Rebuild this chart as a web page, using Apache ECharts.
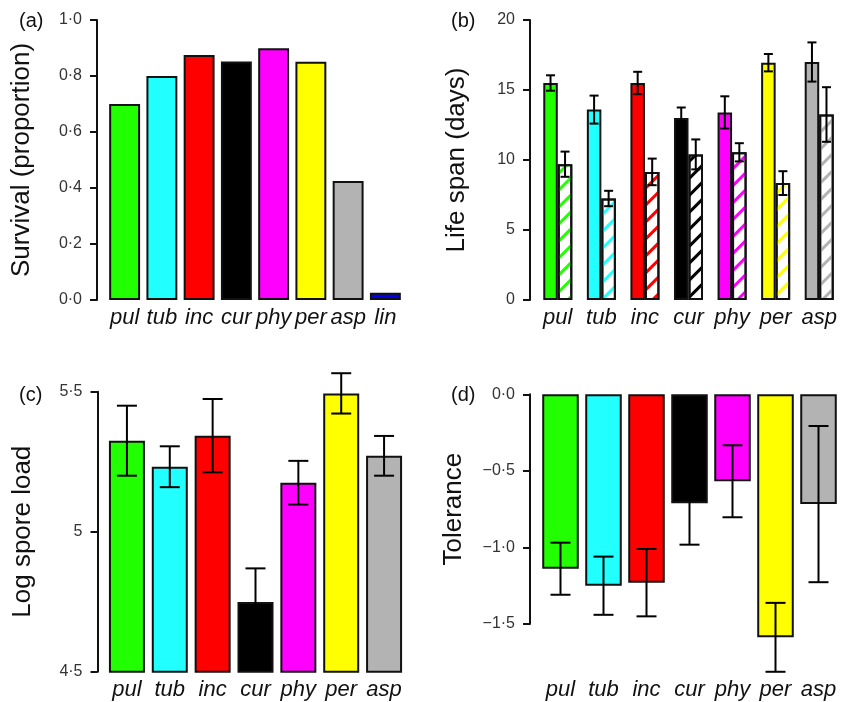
<!DOCTYPE html>
<html><head><meta charset="utf-8">
<script src="https://cdn.jsdelivr.net/npm/echarts@6/dist/echarts.min.js"></script>
<style>html,body{margin:0;padding:0;background:#fff}#c{width:841px;height:702px}</style>
</head><body><div id="c"></div>
<script>
// ---- data ----
const speciesA = ['pul','tub','inc','cur','phy','per','asp','lin'];
const survival = [0.70, 0.80, 0.875, 0.852, 0.899, 0.851, 0.425, 0.026];
const species = ['pul','tub','inc','cur','phy','per','asp'];
const lifeSpanExposed = [15.5, 13.6, 15.5, 13.0, 13.4, 16.95, 17.0];
const lifeSpanExposedErr = [0.55, 1.0, 0.8, 0.75, 1.15, 0.62, 1.4];
const lifeSpanControl = [9.7, 7.25, 9.15, 10.4, 10.55, 8.35, 13.25];
const lifeSpanControlErr = [0.9, 0.55, 0.95, 1.07, 0.65, 0.85, 1.95];
const sporeLoad = [5.325, 5.232, 5.343, 4.749, 5.175, 5.494, 5.271];
const sporeLoadErr = [0.125, 0.073, 0.131, 0.12, 0.078, 0.072, 0.071];
const tolerance = [-1.139, -1.25, -1.23, -0.712, -0.568, -1.587, -0.717];
const toleranceErr = [0.17, 0.19, 0.22, 0.27, 0.235, 0.225, 0.51];
const colors = ['#22ff00','#22ffff','#ff0000','#000000','#ff00ff','#ffff00','#b3b3b3','#0000ee'];

// ---- helpers ----
const FONT = 'Liberation Sans, Arial, Helvetica, sans-serif';
const INK = '#111';
const dot = v => String(v).replace('.', '\u00b7');
const fmt1 = v => (v < 0 ? '\u2212' : '') + Math.abs(v).toFixed(1).replace('.', '\u00b7');
const tickLabel = f => ({ fontFamily: FONT, fontSize: 16, color: '#333', margin: 15, formatter: f });

function yAxisCfg(grid, o) {
  return Object.assign({
    type: 'value', gridIndex: grid,
    nameLocation: 'middle', nameRotate: 90,
    nameTextStyle: { fontFamily: FONT, fontSize: 26, color: INK },
    axisLine: { show: true, lineStyle: { color: INK, width: 2 } },
    axisTick: { show: true, length: 7, lineStyle: { color: INK, width: 2 } },
    axisLabel: tickLabel(undefined),
    splitLine: { show: false }
  }, o);
}
function xAxisCfg(grid, cats, margin) {
  return {
    type: 'category', gridIndex: grid, data: cats,
    axisLine: { show: false, onZero: false },
    axisTick: { show: false },
    axisLabel: { fontFamily: FONT, fontSize: 22, fontStyle: 'italic', color: INK, margin: margin, interval: 0 }
  };
}
function errRender(offsetFrac, capW) {
  return function (params, api) {
    const cat = api.value(0);
    const lo = api.coord([cat, api.value(2)]);
    const hi = api.coord([cat, api.value(3)]);
    const w = api.size([1, 0])[0];
    const x = lo[0] + w * offsetFrac;
    const st = { stroke: '#000', lineWidth: 2 };
    return { type: 'group', children: [
      { type: 'line', shape: { x1: x, y1: lo[1], x2: x, y2: hi[1] }, style: st },
      { type: 'line', shape: { x1: x - capW / 2, y1: lo[1], x2: x + capW / 2, y2: lo[1] }, style: st },
      { type: 'line', shape: { x1: x - capW / 2, y1: hi[1], x2: x + capW / 2, y2: hi[1] }, style: st }
    ]};
  };
}
const errData = (m, e) => m.map((v, i) => [i, v, v - e[i], v + e[i]]);
const barBorder = { borderColor: INK, borderWidth: 2 };

const option = {
  animation: false,
  backgroundColor: '#fff',
  title: [
    { text: '(a)', left: 14, top: 6 },
    { text: '(b)', left: 446, top: 6 },
    { text: '(c)', left: 14, top: 380 },
    { text: '(d)', left: 446, top: 380 }
  ].map(t => Object.assign(t, { textStyle: { fontFamily: FONT, fontSize: 20, fontWeight: 'normal', color: INK } })),
  grid: [
    { left: 106, top: 20, width: 298, height: 280 },
    { left: 536, top: 20, width: 306, height: 280 },
    { left: 105.5, top: 391.7, width: 300, height: 280 },
    { left: 539, top: 394.3, width: 301, height: 229.7 }
  ],
  xAxis: [
    xAxisCfg(0, speciesA, 7),
    xAxisCfg(1, species, 7),
    xAxisCfg(2, species, 7),
    xAxisCfg(3, species, 55)
  ],
  yAxis: [
    yAxisCfg(0, { min: 0, max: 1, interval: 0.2, offset: 9, name: 'Survival (proportion)', nameGap: 62, axisLabel: tickLabel(fmt1) }),
    yAxisCfg(1, { min: 0, max: 20, interval: 5, offset: 6, name: 'Life span (days)', nameGap: 60 }),
    yAxisCfg(2, { min: 4.5, max: 5.5, interval: 0.5, offset: 8, name: 'Log spore load', nameGap: 62, axisLabel: tickLabel(dot) }),
    yAxisCfg(3, { min: -1.5, max: 0, interval: 0.5, offset: 9, name: 'Tolerance', nameGap: 63, axisLabel: tickLabel(fmt1) })
  ],
  series: [
    { type: 'bar', xAxisIndex: 0, yAxisIndex: 0, barCategoryGap: '17%',
      data: survival.map((v, i) => ({ value: v, itemStyle: Object.assign({ color: colors[i] }, barBorder) })) },
    { type: 'bar', xAxisIndex: 1, yAxisIndex: 1, barWidth: '33.3%', barGap: '0%',
      data: lifeSpanExposed.map((v, i) => ({ value: v, itemStyle: Object.assign({ color: colors[i] }, barBorder) })) },
    { type: 'bar', xAxisIndex: 1, yAxisIndex: 1, barWidth: '33.3%', barGap: '0%',
      data: lifeSpanControl.map((v, i) => ({ value: v, itemStyle: Object.assign({ color: '#ffffff',
        decal: { symbol: 'rect', symbolSize: 1, color: colors[i], dashArrayX: [1, 0], dashArrayY: [2.5, 9], rotation: -Math.PI / 4 } }, barBorder) })) },
    { type: 'custom', xAxisIndex: 1, yAxisIndex: 1, z: 5, clip: false, renderItem: errRender(-1/6, 9), data: errData(lifeSpanExposed, lifeSpanExposedErr) },
    { type: 'custom', xAxisIndex: 1, yAxisIndex: 1, z: 5, clip: false, renderItem: errRender(1/6, 9), data: errData(lifeSpanControl, lifeSpanControlErr) },
    { type: 'bar', xAxisIndex: 2, yAxisIndex: 2, barCategoryGap: '16%', clip: true,
      data: sporeLoad.map((v, i) => ({ value: v, itemStyle: Object.assign({ color: colors[i] }, barBorder) })) },
    { type: 'custom', xAxisIndex: 2, yAxisIndex: 2, z: 5, clip: false, renderItem: errRender(0, 20), data: errData(sporeLoad, sporeLoadErr) },
    { type: 'bar', xAxisIndex: 3, yAxisIndex: 3, barCategoryGap: '15%', clip: false,
      data: tolerance.map((v, i) => ({ value: v, itemStyle: Object.assign({ color: colors[i] }, barBorder) })) },
    { type: 'custom', xAxisIndex: 3, yAxisIndex: 3, z: 5, clip: false, renderItem: errRender(0, 20), data: errData(tolerance, toleranceErr) }
  ]
};
const chart = echarts.init(document.getElementById('c'), null, { renderer: 'canvas' });
chart.setOption(option);
</script>
</body></html>
